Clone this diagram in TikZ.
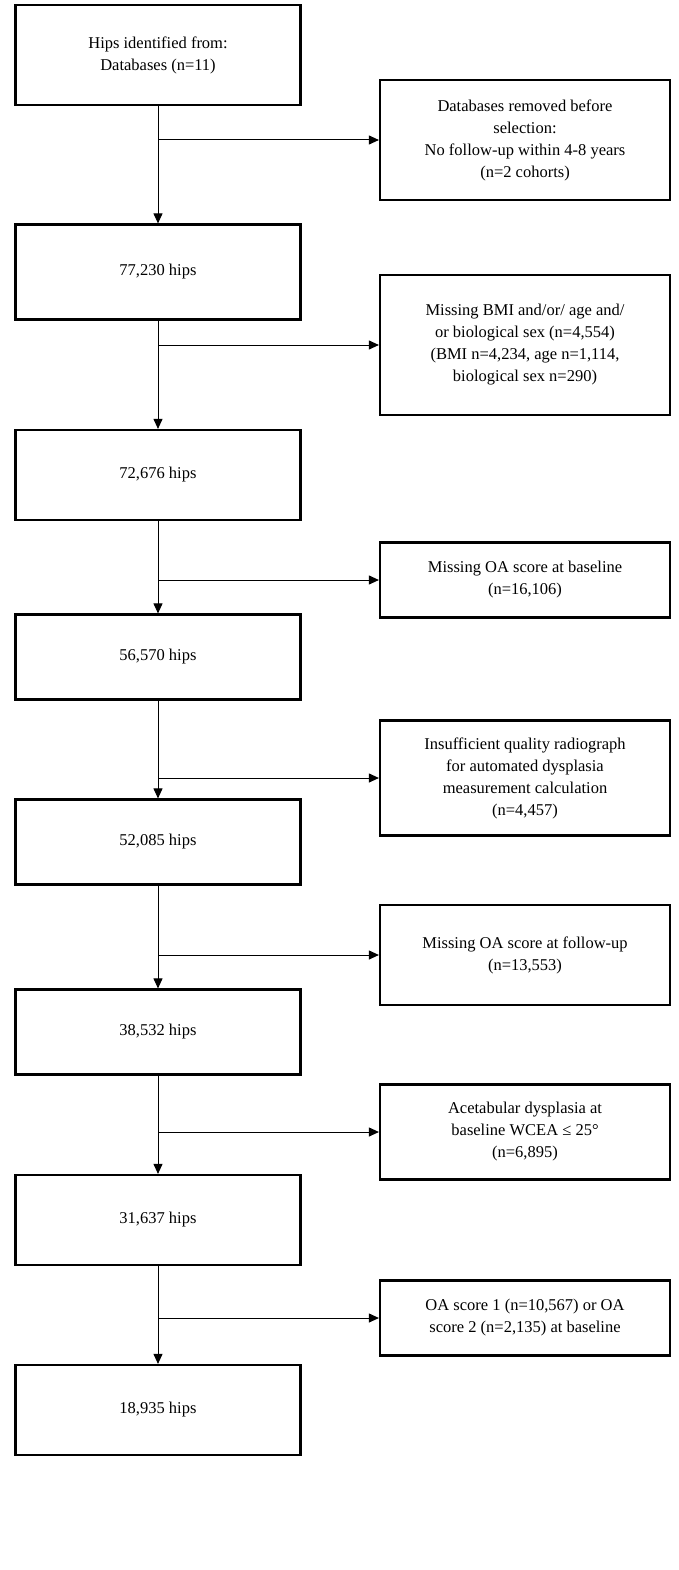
\documentclass[tikz,border=0pt]{standalone}
\usepackage{fontspec}
\setmainfont{Liberation Serif}
\usetikzlibrary{arrows.meta}
\begin{document}
\begin{tikzpicture}[x=1pt,y=-1pt,
  box/.style={draw,line width=2.2pt,inner sep=0pt,align=center,font=\fontsize{16.5}{22}\selectfont},
  arr/.style={line width=1pt,-{Triangle[length=10pt,width=9pt]}},
  ln/.style={line width=1pt}]
\useasboundingbox (0,0) rectangle (678,1570);
\def\lb#1#2#3#4{\node[box,minimum width=285pt,minimum height=#3pt] (#1) at (158,#2) {#4};}
\def\rb#1#2#3#4{\node[box,minimum width=290pt,minimum height=#3pt] (#1) at (525,#2) {#4};}
\lb{L1}{55}{100}{Hips identified from:\\Databases (n=11)}
\lb{L2}{272}{95}{77,230 hips}
\lb{L3}{475}{90}{72,676 hips}
\lb{L4}{657}{85}{56,570 hips}
\lb{L5}{842}{85}{52,085 hips}
\lb{L6}{1032}{85}{38,532 hips}
\lb{L7}{1220}{90}{31,637 hips}
\lb{L8}{1410}{90}{18,935 hips}
\rb{R1}{140}{120}{Databases removed before\\selection:\\No follow-up within 4-8 years\\(n=2 cohorts)}
\rb{R2}{345}{140}{Missing BMI and/or/ age and/\\or biological sex (n=4,554)\\(BMI n=4,234, age n=1,114,\\biological sex n=290)}
\rb{R3}{580}{75}{Missing OA score at baseline\\(n=16,106)}
\rb{R4}{778}{115}{Insufficient quality radiograph\\for automated dysplasia\\measurement calculation\\(n=4,457)}
\rb{R5}{955}{100}{Missing OA score at follow-up\\(n=13,553)}
\rb{R6}{1132}{95}{Acetabular dysplasia at\\baseline WCEA ≤ 25°\\(n=6,895)}
\rb{R7}{1318}{75}{OA score 1 (n=10,567) or OA\\score 2 (n=2,135) at baseline}
\foreach \a/\b/\r in {L1/L2/R1,L2/L3/R2,L3/L4/R3,L4/L5/R4,L5/L6/R5,L6/L7/R6,L7/L8/R7}{
  \draw[arr] (\a.south) -- (\b.north);
  \coordinate (c\r) at (\a.south |- \r.west);
  \draw[arr] (c\r) -- (\r.west);
}
\end{tikzpicture}
\end{document}
